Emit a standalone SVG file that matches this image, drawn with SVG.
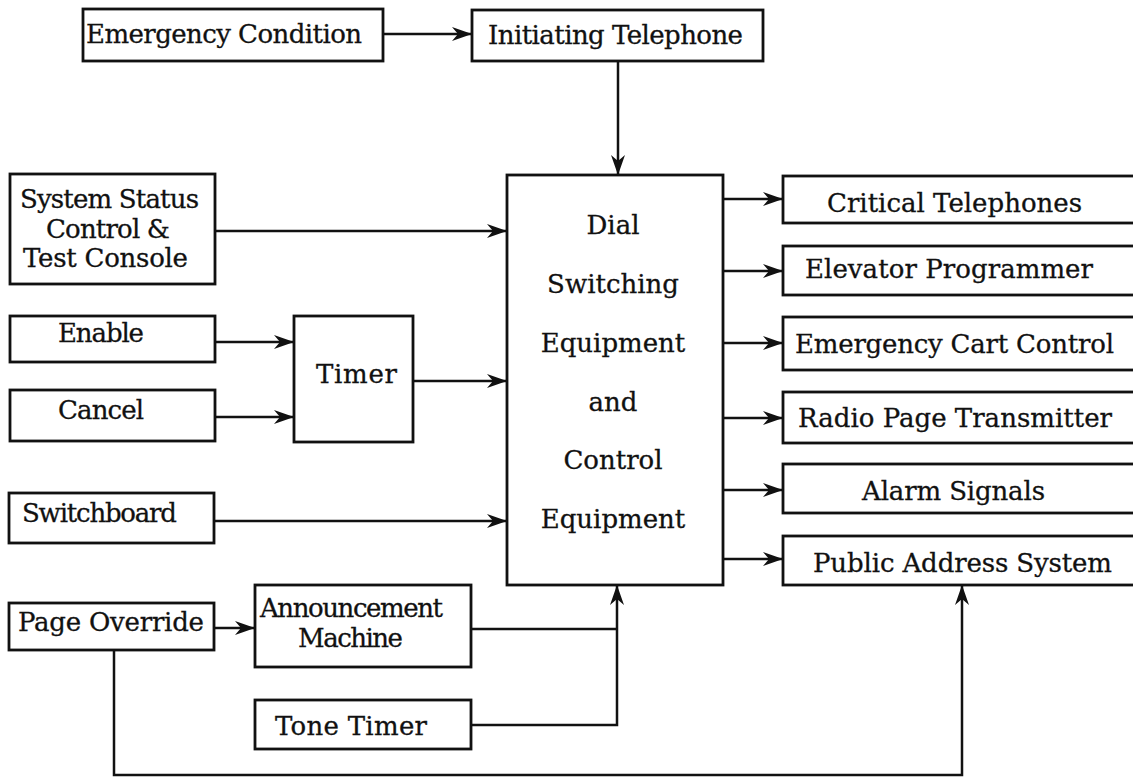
<svg xmlns="http://www.w3.org/2000/svg" width="1133" height="777" viewBox="0 0 1133 777">
<style>
.box{fill:#fff;stroke:#111;stroke-width:2.8}
.ln{fill:none;stroke:#111;stroke-width:2.5}
.arr{marker-end:url(#ah)}
text{font-family:"DejaVu Serif","Liberation Serif",serif;font-size:26px;fill:#111;stroke:#111;stroke-width:0.3}
</style>
<defs>
<marker id="ah" markerUnits="userSpaceOnUse" markerWidth="22" markerHeight="16" refX="20" refY="7" orient="auto">
<path d="M0,0 L20,7 L0,14 L6,7 Z" fill="#111"/>
</marker>
</defs>
<rect width="1133" height="777" fill="#fff"/>
<g id="connectors">
<path class="ln arr" d="M383,34 H472"/>
<path class="ln arr" d="M618,61 V175"/>
<path class="ln arr" d="M215,231 H507"/>
<path class="ln arr" d="M215,342 H294"/>
<path class="ln arr" d="M215,417 H294"/>
<path class="ln arr" d="M413,381 H507"/>
<path class="ln arr" d="M214,521 H507"/>
<path class="ln arr" d="M214,628 H255"/>
<path class="ln" d="M471,629 H617"/>
<path class="ln arr" d="M471,725 H617 V585"/>
<path class="ln arr" d="M114,650 V775 H962 V585"/>
<path class="ln arr" d="M723,199 H783"/>
<path class="ln arr" d="M723,271 H783"/>
<path class="ln arr" d="M723,343 H783"/>
<path class="ln arr" d="M723,418 H783"/>
<path class="ln arr" d="M723,490 H783"/>
<path class="ln arr" d="M723,559 H783"/>
</g>
<g id="emergency-condition">
<rect class="box" x="83" y="9" width="300" height="52"/>
<text x="86" y="43" textLength="276">Emergency Condition</text>
</g>
<g id="initiating-telephone">
<rect class="box" x="472" y="10" width="291" height="51"/>
<text x="488" y="44" textLength="255">Initiating Telephone</text>
</g>
<g id="dial-switching">
<rect class="box" x="507" y="175" width="216" height="410"/>
<text x="613" y="234" text-anchor="middle">Dial</text>
<text x="613" y="293" text-anchor="middle">Switching</text>
<text x="613" y="352" text-anchor="middle">Equipment</text>
<text x="613" y="411" text-anchor="middle">and</text>
<text x="613" y="469" text-anchor="middle">Control</text>
<text x="613" y="528" text-anchor="middle">Equipment</text>
</g>
<g id="system-status">
<rect class="box" x="10" y="174" width="205" height="110"/>
<text x="20" y="208" textLength="179">System Status</text>
<text x="46" y="238" textLength="124">Control &amp;</text>
<text x="23" y="267" textLength="165">Test Console</text>
</g>
<g id="enable">
<rect class="box" x="10" y="316" width="205" height="46"/>
<text x="58" y="342" textLength="86">Enable</text>
</g>
<g id="cancel">
<rect class="box" x="10" y="390" width="205" height="51"/>
<text x="58" y="419" textLength="86">Cancel</text>
</g>
<g id="timer">
<rect class="box" x="294" y="316" width="119" height="126"/>
<text x="316" y="383" textLength="81">Timer</text>
</g>
<g id="switchboard">
<rect class="box" x="9" y="493" width="205" height="50"/>
<text x="22" y="522" textLength="155">Switchboard</text>
</g>
<g id="page-override">
<rect class="box" x="9" y="603" width="205" height="47"/>
<text x="18" y="631" textLength="186">Page Override</text>
</g>
<g id="announcement-machine">
<rect class="box" x="255" y="585" width="216" height="82"/>
<text x="260" y="617" textLength="183">Announcement</text>
<text x="298" y="647" textLength="105">Machine</text>
</g>
<g id="tone-timer">
<rect class="box" x="255" y="700" width="216" height="49"/>
<text x="275" y="735" textLength="152">Tone Timer</text>
</g>
<g id="critical-telephones">
<rect class="box" x="783" y="176" width="352" height="47"/>
<text x="827" y="212" textLength="255">Critical Telephones</text>
</g>
<g id="elevator-programmer">
<rect class="box" x="783" y="246" width="352" height="49"/>
<text x="805" y="278" textLength="288">Elevator Programmer</text>
</g>
<g id="emergency-cart-control">
<rect class="box" x="783" y="317" width="352" height="53"/>
<text x="795" y="353" textLength="319">Emergency Cart Control</text>
</g>
<g id="radio-page-transmitter">
<rect class="box" x="783" y="392" width="352" height="51"/>
<text x="798" y="427" textLength="314">Radio Page Transmitter</text>
</g>
<g id="alarm-signals">
<rect class="box" x="783" y="464" width="352" height="49"/>
<text x="862" y="500" textLength="183">Alarm Signals</text>
</g>
<g id="public-address-system">
<rect class="box" x="783" y="536" width="352" height="49"/>
<text x="813" y="572" textLength="299">Public Address System</text>
</g>
</svg>
